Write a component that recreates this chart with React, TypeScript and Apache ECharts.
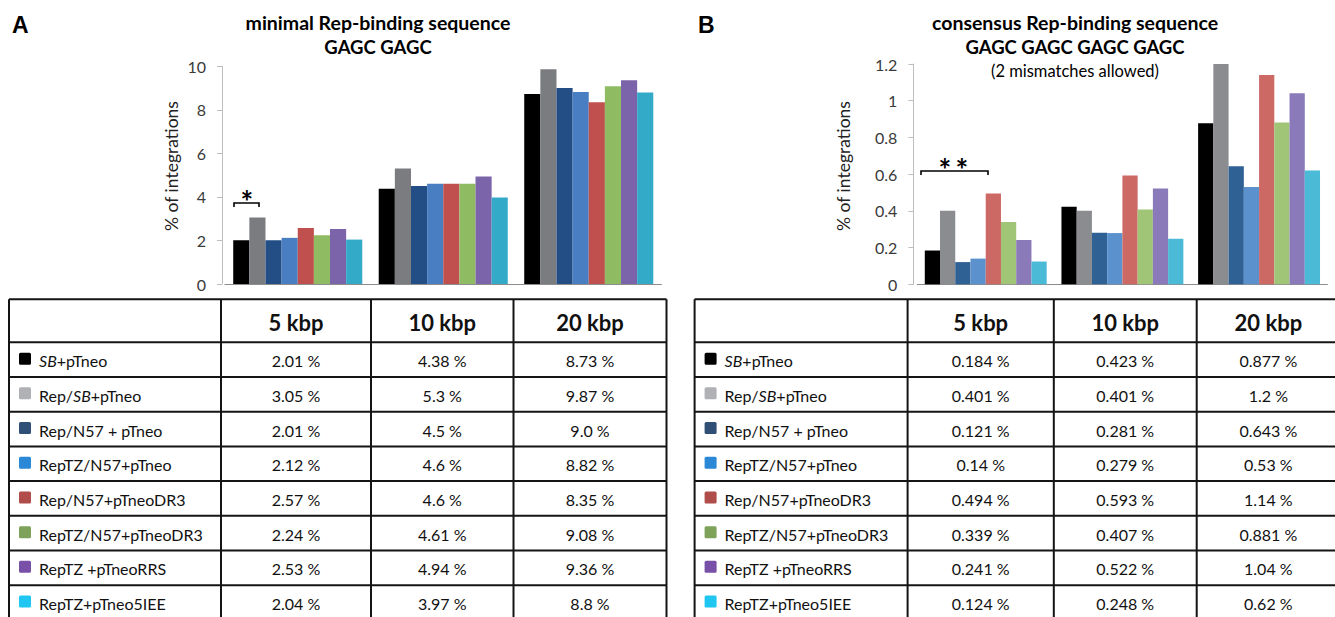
import React, { useEffect, useRef } from "react";
import * as echarts from "echarts";

// ---------- data ----------
const distances = ["5 kbp", "10 kbp", "20 kbp"];
const constructs = [
  "SB+pTneo",
  "Rep/SB+pTneo",
  "Rep/N57 + pTneo",
  "RepTZ/N57+pTneo",
  "Rep/N57+pTneoDR3",
  "RepTZ/N57+pTneoDR3",
  "RepTZ +pTneoRRS",
  "RepTZ+pTneo5IEE",
];
// panel A: minimal Rep-binding sequence (% of integrations)
const minimal5 = ["2.01", "3.05", "2.01", "2.12", "2.57", "2.24", "2.53", "2.04"];
const minimal10 = ["4.38", "5.3", "4.5", "4.6", "4.6", "4.61", "4.94", "3.97"];
const minimal20 = ["8.73", "9.87", "9.0", "8.82", "8.35", "9.08", "9.36", "8.8"];
// panel B: consensus Rep-binding sequence (% of integrations)
const consensus5 = ["0.184", "0.401", "0.121", "0.14", "0.494", "0.339", "0.241", "0.124"];
const consensus10 = ["0.423", "0.401", "0.281", "0.279", "0.593", "0.407", "0.522", "0.248"];
const consensus20 = ["0.877", "1.2", "0.643", "0.53", "1.14", "0.881", "1.04", "0.62"];

const axisA = { min: 0, max: 10, interval: 2 };
const axisB = { min: 0, max: 1.2, interval: 0.2 };
const yAxisName = "% of integrations";

// ---------- styles ----------
const colorsA = ["#000000", "#7b7c80", "#234e85", "#4a7ec2", "#c0504d", "#8fbb63", "#7c64aa", "#33aac8"];
const colorsB = ["#000000", "#8a8c90", "#2f6195", "#5b92cd", "#cd6965", "#a1c577", "#8a7aba", "#4bbad6"];
const legendColors = ["#000000", "#b0b1b5", "#2f4f77", "#2a88d6", "#b04c4a", "#7ea259", "#7850a8", "#1fc6f2"];

const FONT = "Lato";

function richName(name: string) {
  return name.replace("SB", "{i|SB}");
}

function buildTable(
  cols: number[],
  top: number,
  headerBottom: number,
  rowH: number,
  cols5: string[],
  cols10: string[],
  cols20: string[]
) {
  const els: any[] = [];
  const nRows = constructs.length;
  const bottom = headerBottom + rowH * nRows;
  const lineStyle = { stroke: "#141414", lineWidth: 2 };
  const ys = [top, headerBottom];
  for (let r = 1; r <= nRows; r++) ys.push(headerBottom + rowH * r);
  ys.forEach((y) =>
    els.push({ type: "line", shape: { x1: cols[0], y1: y, x2: cols[cols.length - 1], y2: y }, style: lineStyle, silent: true })
  );
  cols.forEach((x) =>
    els.push({ type: "line", shape: { x1: x, y1: top, x2: x, y2: bottom }, style: lineStyle, silent: true })
  );
  distances.forEach((d, c) => {
    els.push({
      type: "text",
      style: {
        text: d,
        x: (cols[c + 1] + cols[c + 2]) / 2,
        y: (top + headerBottom) / 2 + 2,
        font: `bold 22px ${FONT}`,
        fill: "#111",
        align: "center",
        verticalAlign: "middle",
        textAlign: "center",
        textVerticalAlign: "middle",
      },
    });
  });
  const values = [cols5, cols10, cols20];
  constructs.forEach((name, r) => {
    const cy = headerBottom + rowH * r + rowH / 2 + 1;
    els.push({
      type: "rect",
      shape: { x: cols[0] + 10, y: cy - 8, width: 12, height: 12, r: 1.5 },
      style: { fill: legendColors[r] },
    });
    els.push({
      type: "text",
      style: {
        text: richName(name),
        x: cols[0] + 30,
        y: cy,
        font: `16px ${FONT}`,
        fill: "#111",
        align: "left",
        verticalAlign: "middle",
        textAlign: "left",
        textVerticalAlign: "middle",
        rich: { i: { fontStyle: "italic", fontFamily: FONT, fontSize: 16, fill: "#111" } },
      },
    });
    values.forEach((arr, c) => {
      els.push({
        type: "text",
        style: {
          text: `${arr[r]} %`,
          x: (cols[c + 1] + cols[c + 2]) / 2,
          y: cy,
          font: `16px ${FONT}`,
          fill: "#111",
          align: "center",
          verticalAlign: "middle",
          textAlign: "center",
          textVerticalAlign: "middle",
        },
      });
    });
  });
  return els;
}

function txt(text: string, x: number, y: number, font: string, align = "center") {
  return {
    type: "text",
    style: {
      text,
      x,
      y,
      font,
      fill: "#000",
      align,
      verticalAlign: "middle",
      textAlign: align,
      textVerticalAlign: "middle",
    },
  };
}

function rotatedName(x: number, y: number) {
  return {
    type: "text",
    x,
    y,
    rotation: Math.PI / 2,
    style: {
      text: yAxisName,
      x: 0,
      y: 0,
      font: `17.5px ${FONT}`,
      fill: "#222",
      align: "center",
      verticalAlign: "middle",
      textAlign: "center",
      textVerticalAlign: "middle",
    },
  };
}

export default function App() {
  const ref = useRef<HTMLDivElement>(null);
  useEffect(() => {
    if (!ref.current) return;
    const chart = echarts.init(ref.current, null, { renderer: "svg" });

    const yAxisCommon = (gridIndex: number, ax: any, offset: number) => ({
      type: "value",
      gridIndex,
      min: ax.min,
      max: ax.max,
      interval: ax.interval,
      offset,
      axisLine: { show: true, lineStyle: { color: "#bdbdbd", width: 1 } },
      axisTick: { show: true, length: 5, lineStyle: { color: "#bdbdbd" } },
      axisLabel: { color: "#3a3a3a", fontFamily: FONT, fontSize: 16, margin: 16 },
      splitLine: { show: false },
    });
    const xAxisCommon = (gridIndex: number) => ({
      type: "category",
      gridIndex,
      data: distances,
      axisLine: { show: true, lineStyle: { color: "#8c8c8c", width: 1 } },
      axisTick: { show: false },
      axisLabel: { show: false },
    });

    const seriesA = constructs.map((name, i) => ({
      type: "bar",
      name,
      xAxisIndex: 0,
      yAxisIndex: 0,
      data: [Number(minimal5[i]), Number(minimal10[i]), Number(minimal20[i])],
      itemStyle: { color: colorsA[i] },
      barGap: "0%",
      barCategoryGap: "11.3%",
    }));
    const seriesB = constructs.map((name, i) => ({
      type: "bar",
      name,
      xAxisIndex: 1,
      yAxisIndex: 1,
      data: [Number(consensus5[i]), Number(consensus10[i]), Number(consensus20[i])],
      itemStyle: { color: colorsB[i] },
      barGap: "0%",
      barCategoryGap: "10.8%",
    }));

    const graphics: any[] = [
      txt("A", 12, 25, `bold 23px "Liberation Sans"`, "left"),
      txt("B", 698, 25, `bold 23px "Liberation Sans"`, "left"),
      txt("minimal Rep-binding sequence", 378, 22, `bold 19.5px ${FONT}`),
      txt("GAGC GAGC", 378, 47, `bold 18.5px ${FONT}`),
      txt("consensus Rep-binding sequence", 1075, 22, `bold 19.5px ${FONT}`),
      txt("GAGC GAGC GAGC GAGC", 1075, 47, `bold 18.5px ${FONT}`),
      txt("(2 mismatches allowed)", 1075, 71, `16.5px ${FONT}`),
      rotatedName(171, 166),
      rotatedName(843, 166),
      // significance brackets
      {
        type: "polyline",
        shape: { points: [[234, 207], [234, 203], [259, 203], [259, 207]] },
        style: { stroke: "#000", lineWidth: 1.6, fill: "none" },
      },
      txt("*", 247, 201, `bold 30px ${FONT}`),
      {
        type: "polyline",
        shape: { points: [[921, 175], [921, 171], [988, 171], [988, 175]] },
        style: { stroke: "#000", lineWidth: 1.6, fill: "none" },
      },
      txt("*", 945, 169, `bold 30px ${FONT}`),
      txt("*", 962, 169, `bold 30px ${FONT}`),
      ...buildTable([9, 221, 371, 513.5, 666.5], 299.3, 342.3, 34.7, minimal5, minimal10, minimal20),
      ...buildTable([694.6, 907.6, 1053.8, 1196.7, 1340], 299.3, 342.3, 34.7, consensus5, consensus10, consensus20),
    ];

    chart.setOption({
      animation: false,
      backgroundColor: "#ffffff",
      grid: [
        { left: 225, top: 66.3, width: 436.5, height: 217.7, containLabel: false },
        { left: 917.4, top: 64, width: 410, height: 220.3, containLabel: false },
      ],
      xAxis: [xAxisCommon(0), xAxisCommon(1)],
      yAxis: [yAxisCommon(0, axisA, 3), yAxisCommon(1, axisB, 4)],
      series: [...seriesA, ...seriesB],
      graphic: graphics,
    });
    return () => chart.dispose();
  }, []);
  return (
    <div
      ref={ref}
      style={{ position: "fixed", left: 0, top: 0, width: 1335, height: 617, background: "#fff" }}
    />
  );
}
